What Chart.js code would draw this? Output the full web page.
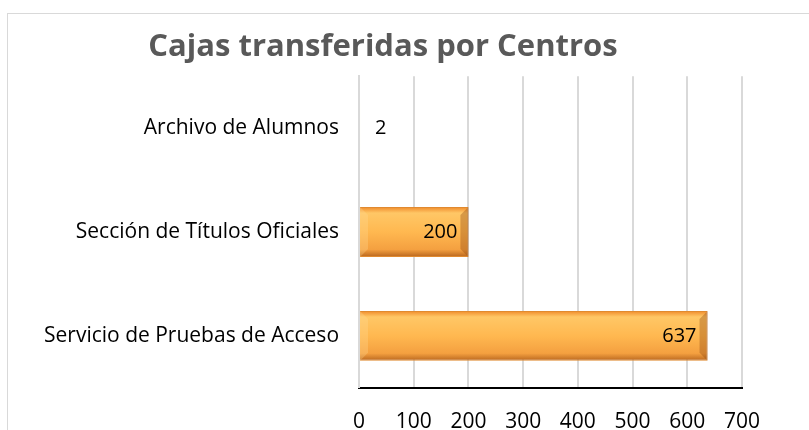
<!DOCTYPE html>
<html>
<head>
<meta charset="utf-8">
<script src="https://cdn.jsdelivr.net/npm/chart.js@4/dist/chart.umd.min.js"></script>
<style>
  html, body { margin: 0; padding: 0; background: #fff; }
  #frame { position: absolute; left: 7px; top: 13px; width: 820px; height: 430px; border: 1px solid #d9d9d9; box-sizing: border-box; }
  #wrap { position: absolute; left: 0; top: 0; width: 809px; height: 430px; }
</style>
</head>
<body>
<div id="frame"></div>
<div id="wrap"><canvas id="chart"></canvas></div>
<script>
const categories = ['Archivo de Alumnos', 'Sección de Títulos Oficiales', 'Servicio de Pruebas de Acceso'];
const boxes = [2, 200, 637];
const xTicks = [0, 100, 200, 300, 400, 500, 600, 700];

const FONT = "'Open Sans', 'Liberation Sans', sans-serif";

// bevelled orange look: gradient built per bar from its own element box
const bevelFill = {
  id: 'bevelFill',
  beforeDatasetsDraw(chart) {
    const ctx = chart.ctx;
    chart.getDatasetMeta(0).data.forEach((bar) => {
      const top = bar.y - bar.height / 2;
      const g = ctx.createLinearGradient(0, top, 0, top + bar.height);
      g.addColorStop(0, '#f08a2a');
      g.addColorStop(0.12, '#ffc766');
      g.addColorStop(0.5, '#ffb850');
      g.addColorStop(0.85, '#f4a040');
      g.addColorStop(1, '#b8661e');
      bar.options = Object.assign({}, bar.options, { backgroundColor: g });
    });
  },
  afterDatasetsDraw(chart) {
    // darker bevel on the right end of each bar
    const ctx = chart.ctx;
    ctx.save();
    chart.getDatasetMeta(0).data.forEach((bar) => {
      const w = bar.x - bar.base;
      if (w < 20) return;
      const top = bar.y - bar.height / 2;
      const bot = bar.y + bar.height / 2;
      const d = 8;
      ctx.fillStyle = 'rgba(140, 70, 15, 0.35)';
      ctx.beginPath();
      ctx.moveTo(bar.x, top);
      ctx.lineTo(bar.x - d, top + d);
      ctx.lineTo(bar.x - d, bot - d);
      ctx.lineTo(bar.x, bot);
      ctx.closePath();
      ctx.fill();
      ctx.fillStyle = 'rgba(255, 220, 150, 0.3)';
      ctx.beginPath();
      ctx.moveTo(bar.base, top);
      ctx.lineTo(bar.base + d, top + d);
      ctx.lineTo(bar.base + d, bot - d);
      ctx.lineTo(bar.base, bot);
      ctx.closePath();
      ctx.fill();
    });
    ctx.restore();
  },
};

const valueLabels = {
  id: 'valueLabels',
  afterDatasetsDraw(chart) {
    const ctx = chart.ctx;
    ctx.save();
    ctx.font = '20px ' + FONT;
    ctx.fillStyle = '#000';
    ctx.textBaseline = 'middle';
    chart.getDatasetMeta(0).data.forEach((bar, i) => {
      const w = bar.x - bar.base;
      const txt = String(boxes[i]);
      if (w > ctx.measureText(txt).width + 16) {
        ctx.textAlign = 'right';
        ctx.fillText(txt, bar.x - 11, bar.y);
      } else {
        ctx.textAlign = 'left';
        ctx.fillText(txt, bar.x + 15, bar.y);
      }
    });
    ctx.restore();
  },
};

new Chart(document.getElementById('chart'), {
  type: 'bar',
  data: {
    labels: categories,
    datasets: [
      {
        data: boxes,
        backgroundColor: () => '#ffb850',
        borderColor: '#e08a30',
        borderWidth: 1,
        categoryPercentage: 1,
        barPercentage: 0.48,
      },
    ],
  },
  options: {
    indexAxis: 'y',
    responsive: true,
    maintainAspectRatio: false,
    animation: false,
    layout: {
      padding: { top: 29, right: 67, bottom: -27, left: 24 },
    },
    plugins: {
      legend: { display: false },
      tooltip: { enabled: false },
      title: {
        display: true,
        text: 'Cajas transferidas por Centros',
        color: '#595959',
        font: { family: FONT, size: 31, weight: 'bold' },
        padding: { top: 0, bottom: 10 },
      },
    },
    scales: {
      x: {
        min: 0,
        max: 700,
        afterBuildTicks(scale) {
          scale.ticks = xTicks.map((v) => ({ value: v }));
        },
        grid: {
          color: '#d9d9d9',
          lineWidth: 2,
          drawTicks: false,
        },
        border: { color: '#000', width: 2 },
        ticks: {
          color: '#000',
          padding: 22,
          maxRotation: 0,
          autoSkip: false,
          font: { family: FONT, size: 21 },
        },
      },
      y: {
        grid: { display: false, drawTicks: false },
        border: { color: '#d9d9d9', width: 2 },
        ticks: {
          color: '#000',
          padding: 20,
          font: { family: FONT, size: 21 },
        },
      },
    },
  },
  plugins: [bevelFill, valueLabels],
});
</script>
</body>
</html>
